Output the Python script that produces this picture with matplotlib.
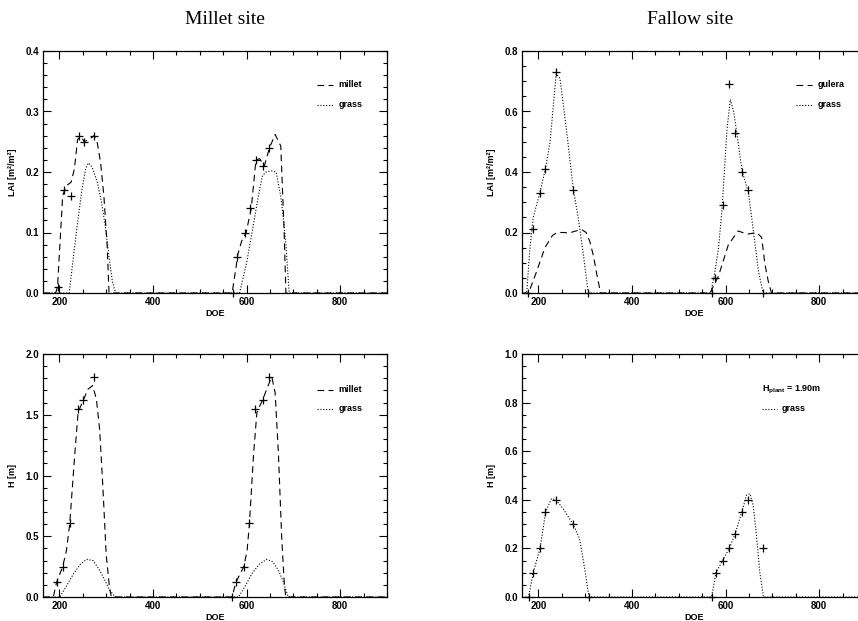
import matplotlib
matplotlib.use("Agg")
import matplotlib.pyplot as plt
from matplotlib.ticker import MultipleLocator

# ---- Millet site, LAI ----
millet_lai_doe = [165, 192, 196, 207, 214, 225, 232, 239, 246, 253, 264, 274, 281, 288, 295, 302, 306,
                  569, 577, 581, 589, 599, 610, 620, 628, 638, 649, 661, 673, 680, 684, 900]
millet_lai = [0, 0, 0.01, 0.16, 0.177, 0.183, 0.205, 0.254, 0.259, 0.25, 0.254, 0.26, 0.248, 0.216, 0.161, 0.079, 0,
              0, 0.04, 0.063, 0.085, 0.10, 0.14, 0.22, 0.222, 0.21, 0.24, 0.262, 0.243, 0.106, 0, 0]
mgrass_lai_doe = [165, 221, 230, 239, 248, 256, 262, 270, 281, 290, 299, 306, 313, 320,
                  585, 600, 613, 625, 634, 642, 652, 663, 673, 679, 684, 691, 900]
mgrass_lai = [0, 0, 0.06, 0.117, 0.17, 0.205, 0.215, 0.208, 0.183, 0.15, 0.106, 0.06, 0.02, 0,
              0, 0.05, 0.106, 0.16, 0.194, 0.20, 0.202, 0.20, 0.16, 0.12, 0.08, 0, 0]
millet_lai_obs_doe = [196, 209, 225, 242, 253, 274, 571, 579, 596, 608, 620, 636, 647]
millet_lai_obs = [0.01, 0.17, 0.16, 0.26, 0.25, 0.26, 0.0, 0.06, 0.10, 0.14, 0.22, 0.21, 0.24]

# ---- Fallow site, LAI ----
gulera_lai_doe = [165, 179, 196, 214, 230, 240, 255, 265, 280, 292, 302, 310, 318, 325, 333,
                  567, 585, 606, 627, 640, 649, 666, 677, 684, 691, 698, 900]
gulera_lai = [0, 0, 0.07, 0.15, 0.19, 0.2, 0.2, 0.198, 0.205, 0.21, 0.2, 0.17, 0.12, 0.06, 0,
              0, 0.057, 0.16, 0.205, 0.198, 0.195, 0.2, 0.184, 0.096, 0.04, 0, 0]
fgrass_lai_doe = [165, 175, 182, 189, 203, 215, 225, 238, 246, 260, 274, 285, 295, 306, 309,
                  568, 575, 585, 592, 603, 610, 617, 624, 635, 649, 659, 670, 680, 900]
fgrass_lai = [0, 0, 0.15, 0.25, 0.33, 0.41, 0.5, 0.725, 0.71, 0.54, 0.35, 0.25, 0.14, 0.008, 0,
              0, 0.05, 0.15, 0.27, 0.54, 0.64, 0.6, 0.53, 0.405, 0.33, 0.21, 0.074, 0, 0]
fallow_lai_obs_doe = [178, 188, 203, 215, 237, 274, 307, 570, 578, 594, 608, 620, 635, 647, 680]
fallow_lai_obs = [0.0, 0.21, 0.33, 0.41, 0.73, 0.34, 0.0, 0.0, 0.05, 0.29, 0.69, 0.53, 0.40, 0.34, 0.0]

# ---- Millet site, height ----
millet_h_doe = [165, 187, 194, 207, 215, 222, 233, 240, 251, 261, 271, 279, 286, 293, 300, 307, 311,
                569, 577, 594, 601, 606, 615, 622, 634, 647, 654, 661, 668, 675, 681, 684, 900]
millet_h = [0, 0, 0.12, 0.25, 0.38, 0.6, 1.18, 1.52, 1.62, 1.71, 1.74, 1.63, 1.38, 0.9, 0.35, 0.08, 0,
            0, 0.12, 0.25, 0.38, 0.6, 1.18, 1.52, 1.62, 1.75, 1.81, 1.68, 1.18, 0.49, 0.08, 0, 0]
mgrass_h_doe = [165, 201, 215, 230, 245, 258, 272, 286, 297, 307, 315, 322,
                583, 597, 611, 627, 643, 656, 668, 677, 682, 689, 900]
mgrass_h = [0, 0, 0.09, 0.19, 0.27, 0.31, 0.3, 0.22, 0.14, 0.06, 0.02, 0,
            0, 0.09, 0.19, 0.27, 0.31, 0.29, 0.22, 0.14, 0.08, 0, 0]
millet_h_obs_doe = [194, 207, 222, 240, 251, 273, 568, 577, 594, 606, 618, 634, 647]
millet_h_obs = [0.12, 0.25, 0.61, 1.55, 1.62, 1.81, 0.0, 0.12, 0.25, 0.61, 1.55, 1.62, 1.81]

# ---- Fallow site, height ----
fgrass_h_doe = [165, 179, 189, 203.5, 215.5, 228, 237.5, 253, 274, 288, 299, 308,
                570, 579.5, 593.6, 607.8, 620.5, 634.6, 645, 652, 659, 666, 673, 681, 900]
fgrass_h = [0, 0, 0.1, 0.2, 0.35, 0.405, 0.40, 0.363, 0.30, 0.24, 0.116, 0,
            0, 0.1, 0.15, 0.2, 0.26, 0.35, 0.42, 0.425, 0.377, 0.253, 0.103, 0, 0]
fallow_h_obs_doe = [180, 189, 203, 215, 237, 274, 309, 570, 579, 594, 608, 620, 635, 647, 679]
fallow_h_obs = [0.0, 0.10, 0.20, 0.35, 0.40, 0.30, 0.0, 0.0, 0.10, 0.15, 0.20, 0.26, 0.35, 0.40, 0.20]

DASH = (0, (6, 4))
DOT = (0, (1, 1.6))
LBL = dict(family="Liberation Sans", weight="bold", size=6.5)
MK = dict(color="black", ms=6, mew=0.9, clip_on=False)

fig = plt.figure(figsize=(8.58, 6.21), dpi=100)

def panel(rect, ymax, ymaj, ymin, ylabel):
    ax = fig.add_axes(rect)
    ax.set_xlim(165, 900)
    ax.set_ylim(0, ymax)
    ax.xaxis.set_major_locator(MultipleLocator(200))
    ax.xaxis.set_minor_locator(MultipleLocator(50))
    ax.yaxis.set_major_locator(MultipleLocator(ymaj))
    ax.yaxis.set_minor_locator(MultipleLocator(ymin))
    ax.tick_params(which="both", direction="in", top=True, right=True, width=0.8)
    ax.tick_params(which="major", length=6, pad=3)
    ax.tick_params(which="minor", length=3)
    for lab in ax.get_xticklabels() + ax.get_yticklabels():
        lab.set_fontfamily("Liberation Sans")
        lab.set_fontweight("bold")
        lab.set_fontsize(7)
    for s in ax.spines.values():
        s.set_linewidth(0.9)
    ax.set_ylabel(ylabel, **LBL)
    ax.yaxis.set_label_coords(-0.075, 0.5)
    ax.set_xlabel("DOE", **LBL)
    ax.xaxis.set_label_coords(0.5, -0.065)
    return ax

def legend_line(ax, y, style, text):
    ax.plot([0.797, 0.843], [y, y], color="black", lw=0.8, linestyle=style, transform=ax.transAxes)
    ax.text(0.858, y, text, transform=ax.transAxes, va="center", ha="left", **LBL)

# Millet LAI
ax1 = panel([43 / 858, 1 - 293 / 621, 344 / 858, 242 / 621], 0.4, 0.1, 0.02, "LAI [m²/m²]")
ax1.plot(millet_lai_doe, millet_lai, color="black", lw=0.8, linestyle=DASH, clip_on=False)
ax1.plot(mgrass_lai_doe, mgrass_lai, color="black", lw=0.8, linestyle=DOT, clip_on=False)
ax1.plot(millet_lai_obs_doe, millet_lai_obs, "+", **MK)
legend_line(ax1, 0.86, DASH, "millet")
legend_line(ax1, 0.777, DOT, "grass")

# Fallow LAI
ax2 = panel([522 / 858, 1 - 293 / 621, 344 / 858, 242 / 621], 0.8, 0.2, 0.05, "LAI [m²/m²]")
ax2.plot(gulera_lai_doe, gulera_lai, color="black", lw=0.8, linestyle=DASH, clip_on=False)
ax2.plot(fgrass_lai_doe, fgrass_lai, color="black", lw=0.8, linestyle=DOT, clip_on=False)
ax2.plot(fallow_lai_obs_doe, fallow_lai_obs, "+", **MK)
legend_line(ax2, 0.86, DASH, "gulera")
legend_line(ax2, 0.777, DOT, "grass")

# Millet height
ax3 = panel([43 / 858, 1 - 597 / 621, 344 / 858, 243 / 621], 2.0, 0.5, 0.1, "H [m]")
ax3.plot(millet_h_doe, millet_h, color="black", lw=0.8, linestyle=DASH, clip_on=False)
ax3.plot(mgrass_h_doe, mgrass_h, color="black", lw=0.8, linestyle=DOT, clip_on=False)
ax3.plot(millet_h_obs_doe, millet_h_obs, "+", **MK)
legend_line(ax3, 0.852, DASH, "millet")
legend_line(ax3, 0.774, DOT, "grass")

# Fallow height
ax4 = panel([522 / 858, 1 - 597 / 621, 344 / 858, 243 / 621], 1.0, 0.2, 0.05, "H [m]")
ax4.plot(fgrass_h_doe, fgrass_h, color="black", lw=0.8, linestyle=DOT, clip_on=False)
ax4.plot(fallow_h_obs_doe, fallow_h_obs, "+", **MK)
ax4.text(0.698, 0.852, "H$_{\\mathregular{plant}}$ = 1.90m", transform=ax4.transAxes,
         va="center", ha="left", **LBL)
ax4.plot([0.698, 0.741], [0.774, 0.774], color="black", lw=0.8, linestyle=DOT, transform=ax4.transAxes)
ax4.text(0.756, 0.774, "grass", transform=ax4.transAxes, va="center", ha="left", **LBL)

fig.text(225 / 858, 1 - 20 / 621, "Millet site", family="Liberation Serif", size=14, ha="center", va="center")
fig.text(690 / 858, 1 - 20 / 621, "Fallow site", family="Liberation Serif", size=14, ha="center", va="center")

fig.savefig("out.png", dpi=100)
